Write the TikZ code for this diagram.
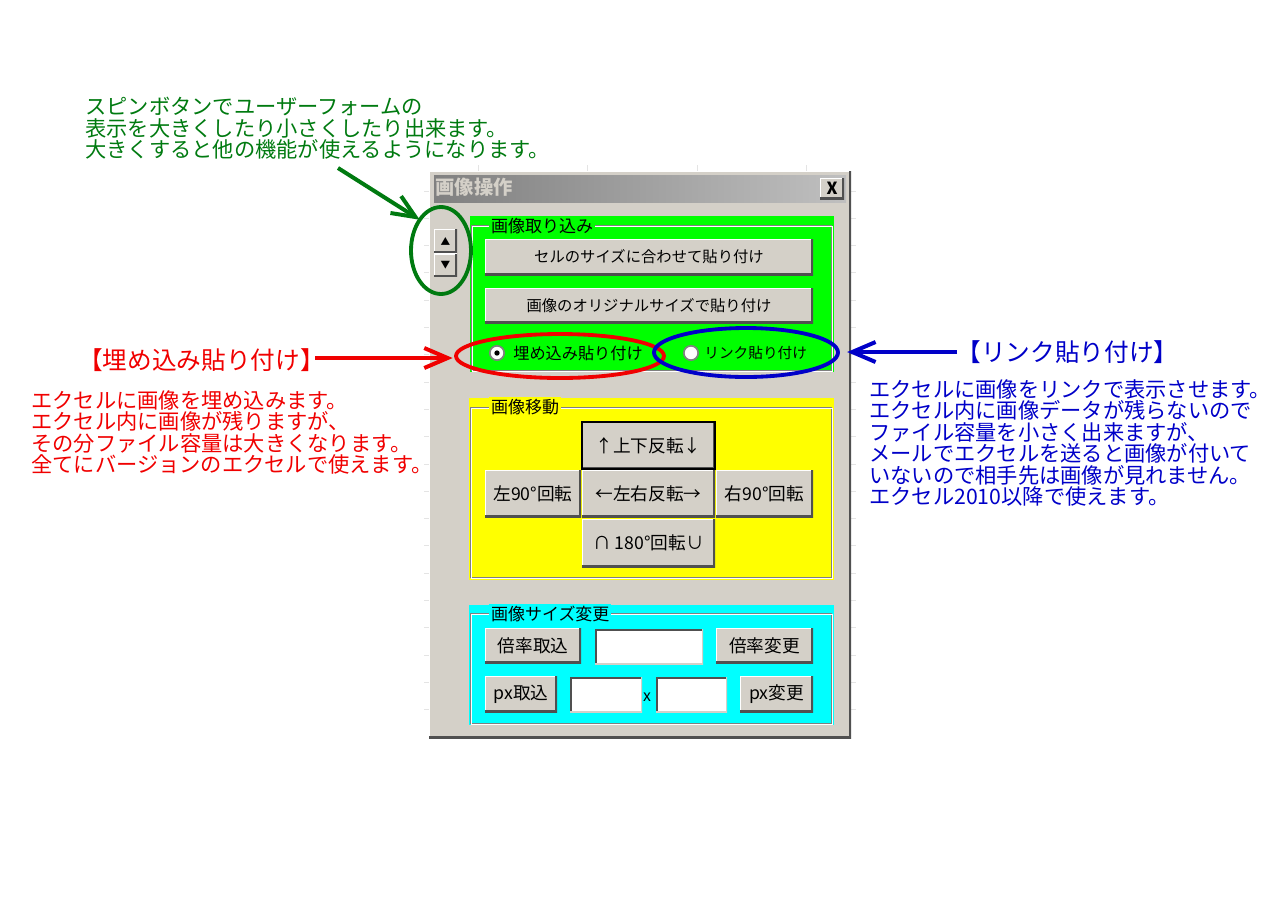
\documentclass[tikz,border=0pt]{standalone}
\usepackage{fontspec}
\usepackage{xcolor}
\usetikzlibrary{shapes.geometric}
\usetikzlibrary{arrows.meta}
\newfontfamily\jpfont{Noto Sans CJK JP}
\definecolor{panelgray}{HTML}{D4D0C8}
\definecolor{edgedark}{HTML}{505050}
\definecolor{grooveline}{HTML}{808080}
\definecolor{gridfaint}{HTML}{E4E4E4}
\definecolor{notegreen}{HTML}{007A10}
\definecolor{notered}{HTML}{F00000}
\definecolor{noteblue}{HTML}{0000C8}
\definecolor{framegreen}{HTML}{00FF00}
\definecolor{frameyellow}{HTML}{FFFF00}
\definecolor{framecyan}{HTML}{00FFFF}
\tikzset{
  wh/.style 2 args = { minimum width=#1*0.6pt, minimum height=#2*0.6pt, inner sep=0pt, outer sep=0pt },
  raised/.style    = { fill=panelgray, path picture={
      \draw[white, line width=1.6pt] (path picture bounding box.south west) -- (path picture bounding box.north west) -- (path picture bounding box.north east);
      \draw[edgedark, line width=2.2pt] (path picture bounding box.south west) -- (path picture bounding box.south east) -- (path picture bounding box.north east);
    } },
  sunken/.style    = { fill=white, path picture={
      \draw[edgedark, line width=2.2pt] (path picture bounding box.south west) -- (path picture bounding box.north west) -- (path picture bounding box.north east);
      \draw[panelgray, line width=1.6pt] (path picture bounding box.south west) -- (path picture bounding box.south east) -- (path picture bounding box.north east);
    } },
  wide/.style      = { raised, font=\jpfont\fontsize{9.2}{11}\selectfont },
  btn/.style       = { raised, font=\jpfont\fontsize{10.6}{12}\selectfont },
  grouplabel/.style = { inner sep=1pt, anchor=west, font=\jpfont\fontsize{10.2}{12}\selectfont },
  radio/.style     = { circle, draw=grooveline, fill=white, line width=1pt, minimum size=8.6pt, inner sep=0pt },
  note/.style      = { anchor=north west, align=left, inner sep=0pt, font=\jpfont\fontsize{12.75}{12.9}\selectfont },
  heading/.style   = { inner sep=0pt, font=\jpfont\fontsize{14.8}{16}\selectfont },
  gridtick/.style  = { draw=gridfaint, line width=0.6pt },
  ring/.style      = { ellipse, draw=#1, line width=2.3pt, inner sep=0pt, outer sep=0pt },
  callout/.style   = { draw=#1, line width=2.4pt, -{Straight Barb[length=14pt,width=12pt,line width=2.4pt]} }
}
\begin{document}
\begin{tikzpicture}[x=0.6pt,y=-0.6pt]
  \useasboundingbox (0,0) rectangle (1280,905);
  % Draw sheet grid behind the dialog
  \foreach \y in {191,218.3,245.6,272.9,300.2,327.5,354.8,382.1,409.4,436.7,464,491.3,518.6,545.9,573.2,600.5,627.8,655.1,682.4,709.7} {
    \draw[gridtick] (424,\y) -- (429,\y);
    \draw[gridtick] (851,\y) -- (856,\y);
  }
  \foreach \x in {478,587,697,806} {
    \draw[gridtick] (\x,165) -- (\x,171);
  }
  % Draw dialog
  \node[raised,wh={422}{567}] (dialog) at (640,454.5) {};
  \node[wh={412}{27},left color=grooveline,right color=gray!50] (titlebar) at (640,188.5) {};
  \node[anchor=west,inner sep=0pt,text=panelgray,font=\jpfont\bfseries\fontsize{11.6}{13}\selectfont] (title) at (435,187.5) {画像操作};
  \node[raised,wh={24}{21},font=\jpfont\bfseries\fontsize{10}{11}\selectfont] (closebtn) at (832,188.5) {X};
  \node[raised,wh={23}{24},font=\jpfont\fontsize{5.8}{7}\selectfont] (spinup) at (445.5,241) {▲};
  \node[raised,wh={23}{23},font=\jpfont\fontsize{5.8}{7}\selectfont] (spindown) at (445.5,265) {▼};
  % Draw import group
  \node[fill=framegreen,wh={364}{156}] (importframe) at (652,294) {};
  \draw[grooveline,line width=0.6pt] (471.5,225.5) rectangle (831.5,370);
  \draw[white,line width=0.6pt] (472.5,226.5) rectangle (832.5,371);
  \node[grouplabel,fill=framegreen] (importlabel) at (489,226) {画像取り込み};
  \node[wide,wh={328}{36}] (pastecell) at (649,257) {セルのサイズに合わせて貼り付け};
  \node[wide,wh={328}{35}] (pasteorig) at (649,305.5) {画像のオリジナルサイズで貼り付け};
  \node[radio] (radioembed) at (497,353) {};
  \node[circle,fill=black,minimum size=3.2pt,inner sep=0pt] (radiodot) at (radioembed) {};
  \node[anchor=west,inner sep=0pt,font=\jpfont\fontsize{9.7}{11}\selectfont] (embedtext) at (513,353) {埋め込み貼り付け};
  \node[radio] (radiolink) at (691,353) {};
  \node[anchor=west,inner sep=0pt,font=\jpfont\fontsize{8.8}{11}\selectfont] (linktext) at (704,353) {リンク貼り付け};
  % Draw move group
  \node[fill=frameyellow,wh={365}{182}] (moveframe) at (651.5,489) {};
  \draw[grooveline,line width=0.6pt] (470.5,407) rectangle (831.5,577);
  \draw[white,line width=0.6pt] (471.5,408) rectangle (832.5,578);
  \node[grouplabel,fill=frameyellow] (movelabel) at (489,407) {画像移動};
  \node[btn,wh={133}{47},draw=black,line width=0.7pt] (flipv) at (648.5,445.5) {↑上下反転↓};
  \node[btn,wh={96}{47}] (rotleft) at (533,493.5) {左90°回転};
  \node[btn,wh={133}{47}] (fliph) at (648.5,493.5) {←左右反転→};
  \node[btn,wh={97}{47}] (rotright) at (764.5,493.5) {右90°回転};
  \node[btn,wh={133}{48}] (rothalf) at (648.5,543) {∩ 180°回転∪};
  % Draw size group
  \node[fill=framecyan,wh={365}{120}] (sizeframe) at (651.5,665) {};
  \draw[grooveline,line width=0.6pt] (470.5,613.5) rectangle (831.5,723);
  \draw[white,line width=0.6pt] (471.5,614.5) rectangle (832.5,724);
  \node[grouplabel,fill=framecyan] (sizelabel) at (489,614) {画像サイズ変更};
  \node[btn,wh={96}{35}] (ratioget) at (533,645.5) {倍率取込};
  \node[sunken,wh={108}{35}] (ratiobox) at (649,646.5) {};
  \node[btn,wh={97}{35}] (ratioset) at (764.5,645.5) {倍率変更};
  \node[btn,wh={72}{36}] (pxget) at (521,694) {px取込};
  \node[sunken,wh={72}{35}] (pxwidth) at (606,694.5) {};
  \node[inner sep=0pt,font=\jpfont\fontsize{9.5}{10}\selectfont] (pxtimes) at (647,697) {x};
  \node[sunken,wh={71}{35}] (pxheight) at (691.5,694.5) {};
  \node[btn,wh={73}{36}] (pxset) at (776.5,694) {px変更};
  % Draw notes
  \node[note,text=notegreen] (spinnote) at (85,97) {スピンボタンでユーザーフォームの\\表示を大きくしたり小さくしたり出来ます。\\大きくすると他の機能が使えるようになります。};
  \node[heading,text=notered,anchor=west] (embedhead) at (78,360) {【埋め込み貼り付け】};
  \node[note,text=notered] (embednote) at (31,390) {エクセルに画像を埋め込みます。\\エクセル内に画像が残りますが、\\その分ファイル容量は大きくなります。\\全てにバージョンのエクセルで使えます。};
  \node[heading,text=noteblue,anchor=west] (linkhead) at (956,352) {【リンク貼り付け】};
  \node[note,text=noteblue] (linknote) at (869,379) {エクセルに画像をリンクで表示させます。\\エクセル内に画像データが残らないので\\ファイル容量を小さく出来ますが、\\メールでエクセルを送ると画像が付いて\\いないので相手先は画像が見れません。\\エクセル2010以降で使えます。};
  % Draw marks and arrows
  \node[ring=notegreen,wh={60}{87}] (spinring) at (441,250.5) {};
  \node[ring=notered,wh={208}{44}] (embedring) at (560,356) {};
  \node[ring=noteblue,wh={184}{49}] (linkring) at (746,352.5) {};
  \coordinate (spinstart) at (338,168);
  \coordinate (embedstart) at (315,358);
  \coordinate (linkstart) at (957,352);
  \draw[callout=notegreen] (spinstart) -- (spinring.north west);
  \draw[callout=notered,shorten >=2pt] (embedstart) -- (embedstart -| embedring.west);
  \draw[callout=noteblue,shorten >=5.5pt] (linkstart) -- (linkstart -| linkring.east);
\end{tikzpicture}
\end{document}
